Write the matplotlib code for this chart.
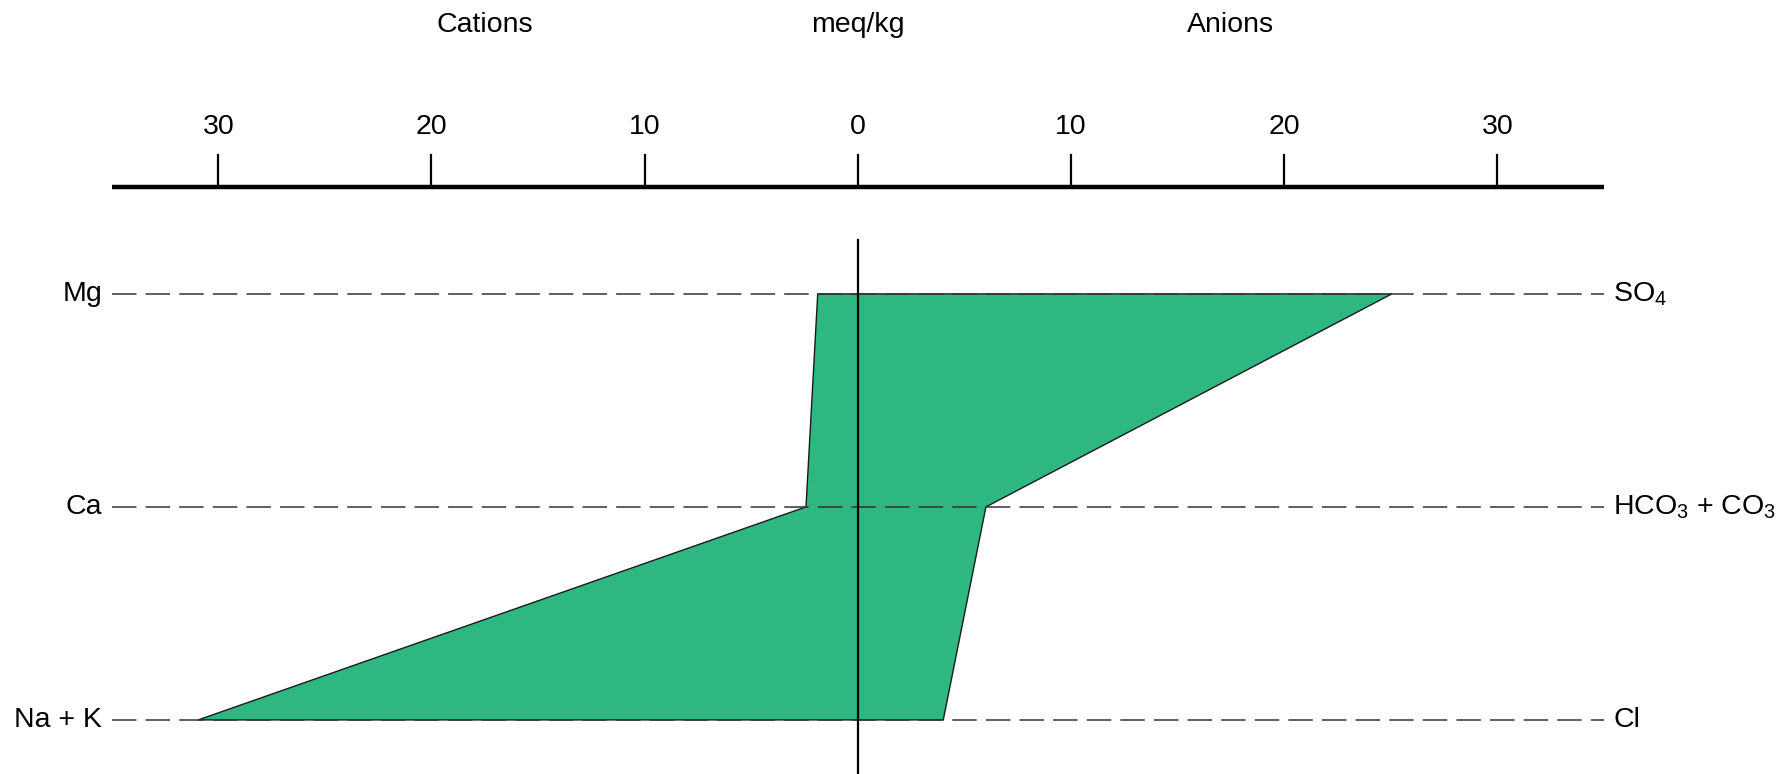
import matplotlib.pyplot as plt
import numpy as np

plt.rcParams["font.family"] = ["Liberation Sans", "DejaVu Sans"]
plt.rcParams["mathtext.default"] = "regular"

# Stiff diagram, concentrations in meq/kg
cations = ["Mg", "Ca", "Na + K"]
anions = ["SO$_4$", "HCO$_3$ + CO$_3$", "Cl"]
cation_meq = [1.88, 2.43, 30.94]
anion_meq = [25.05, 6.01, 4.01]
tick_values = [-30, -20, -10, 0, 10, 20, 30]
tick_labels = ["30", "20", "10", "0", "10", "20", "30"]

fill_color = "#2fb782"
scale_lim = 35
fs = 20.5

fig = plt.figure(figsize=(17.9, 7.74), dpi=100)
ax = fig.add_axes([0, 0, 1, 1])
ax.set_xlim(-40.24, 43.73)
ax.set_ylim(2.254, -1.380)
ax.axis("off")

rows = np.arange(len(cations))

# polygon: cations to the left, anions to the right
xs = list(-np.array(cation_meq)) + list(np.array(anion_meq)[::-1])
ys = list(rows) + list(rows[::-1])
ax.fill(xs, ys, facecolor=fill_color, edgecolor="#1a1a1a", linewidth=1.0, zorder=2)

for r, cat, an in zip(rows, cations, anions):
    ax.plot([-scale_lim, scale_lim], [r, r], color="#333333", linewidth=1.1,
            dashes=(16, 6), zorder=3)
    ax.text(-scale_lim - 0.45, r, cat, ha="right", va="center", fontsize=fs)
    ax.text(scale_lim + 0.45, r, an, ha="left", va="center", fontsize=fs)

# zero line
ax.plot([0, 0], [-0.254, 2.3], color="black", linewidth=1.6, zorder=4)

# scale bar on top
ax.plot([-scale_lim, scale_lim], [-0.502, -0.502], color="black", linewidth=3.2,
        solid_capstyle="butt", zorder=4)
for v, lab in zip(tick_values, tick_labels):
    ax.plot([v, v], [-0.502, -0.653], color="black", linewidth=1.6, zorder=4)
    ax.text(v, -0.785, lab, ha="center", va="center", fontsize=fs)

ax.text(-17.5, -1.263, "Cations", ha="center", va="center", fontsize=fs)
ax.text(0, -1.263, "meq/kg", ha="center", va="center", fontsize=fs)
ax.text(17.5, -1.263, "Anions", ha="center", va="center", fontsize=fs)

fig.savefig("out.png", dpi=100)
